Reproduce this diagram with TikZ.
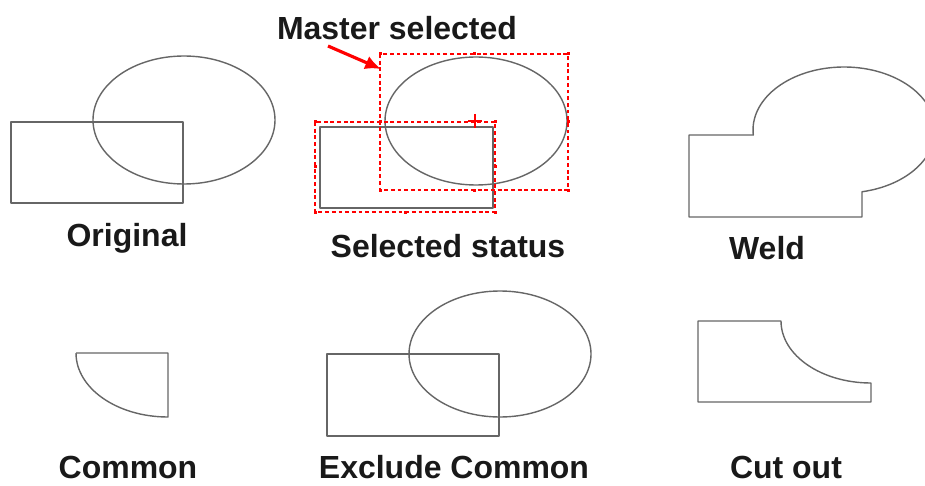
\documentclass[tikz,border=0pt]{standalone}
\usepackage{fontspec}
\setmainfont{Liberation Sans}
\usetikzlibrary{arrows.meta}

\begin{document}
\begin{tikzpicture}[x=0.02cm, y=-0.02cm,
    outline/.style={draw=black!60, line width=0.8pt, line join=round},
    selbox/.style={draw=red, line width=0.6pt, dash pattern=on 2.2pt off 1.6pt},
    caption/.style={anchor=base, font=\fontsize{18.2}{21}\selectfont\bfseries, text=black!90}]
    \useasboundingbox (0,0) rectangle (925,486);

    % Original
    \draw[outline] (11,122) rectangle (183,203);
    \draw[outline] (184,120) ellipse [x radius=91, y radius=64];
    \node[caption] (lblorig) at (127,246) {Original};

    % Selected status
    \draw[outline] (320,127) rectangle (493,208);
    \draw[outline] (476,121) ellipse [x radius=91, y radius=64];
    \draw[selbox] (380,54) rectangle (568,190);
    \draw[selbox] (315,122) rectangle (495,212);
    \foreach \x/\y in {380/54,474/54,568/54,380/122,568/122,380/190,474/190,568/190,
                       315/122,495/122,315/167,495/167,315/212,405/212,495/212}
        \fill[red] (\x-1.5,\y-1.5) rectangle (\x+1.5,\y+1.5);
    \draw[red, line width=1.2pt] (468,121) -- (482,121) (475,114) -- (475,128);
    \node[caption] (lblsel) at (448,257) {Selected status};

    % Master selected, with its arrow
    \node[caption] (lblmaster) at (397,40) {Master selected};
    \coordinate (mtail) at (328,46);
    \coordinate (mtip) at (381,69);
    \draw[red, line width=1.8pt, -{Latex[length=9pt,width=8pt]}] (mtail) -- (mtip);

    % Weld
    \draw[outline] (689,135) -- (753.3,135)
        arc[start angle=175.45, end angle=438.6, x radius=91, y radius=63]
        -- (862,217) -- (689,217) -- cycle;
    \node[caption] (lblweld) at (767,259) {Weld};

    % Common
    \draw[outline] (76,353) -- (168,353) -- (168,417)
        arc[start angle=90, end angle=180, x radius=92, y radius=64];
    \node[caption] (lblcommon) at (128,478) {Common};

    % Exclude Common
    \draw[outline] (327,354) rectangle (499,436);
    \draw[outline] (500,354) ellipse [x radius=91, y radius=63];
    \node[caption] (lblexcl) at (454,478) {Exclude Common};

    % Cut out
    \draw[outline] (698,321) -- (781,321)
        arc[start angle=180, end angle=90, x radius=90, y radius=62]
        -- (871,402) -- (698,402) -- cycle;
    \node[caption] (lblcut) at (786,478) {Cut out};
\end{tikzpicture}
\end{document}
